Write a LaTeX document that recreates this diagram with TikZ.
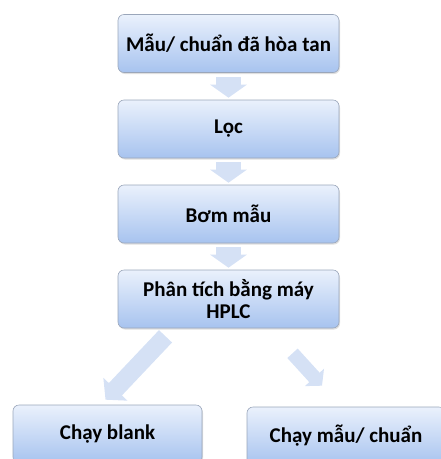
\documentclass[tikz,border=0pt]{standalone}
\usepackage{fontspec}
\setmainfont{Carlito}
\usetikzlibrary{arrows.meta,shadows}
\definecolor{boxtop}{HTML}{EAF1FC}
\definecolor{boxbot}{HTML}{A7C3EF}
\definecolor{boxline}{HTML}{9AA6BA}
\definecolor{arrowfill}{HTML}{D5E1F5}
\begin{document}
\begin{tikzpicture}[x=1pt,y=-1pt,font=\fontsize{21}{22}\selectfont\bfseries,
	stepbox/.style={draw=boxline,line width=0.6pt,rounded corners=6pt,top color=boxtop,bottom color=boxbot,
		align=center,inner sep=0pt,drop shadow={shadow xshift=1pt,shadow yshift=-1.5pt,opacity=0.25,fill=gray}},
	downarrow/.style={draw=arrowfill,line width=25pt,-{Triangle[width=36pt,length=13pt,fill=arrowfill]}},
	sidearrow/.style={draw=arrowfill,line width=#1,-{Triangle[width=1.8*#1,length=0.8*#1,fill=arrowfill]}}]
	\def\bw{221}
	\def\bh{58}
	\useasboundingbox (0,0) rectangle (441,459);
	\clip (0,0) rectangle (441,459);
	\node[stepbox,minimum width=\bw,minimum height=\bh] (mau) at (228.5,43.5) {Mẫu/ chuẩn đã hòa tan};
	\node[stepbox,minimum width=\bw,minimum height=\bh] (loc) at (228.5,129) {Lọc};
	\node[stepbox,minimum width=\bw,minimum height=\bh] (bom) at (228.5,214) {Bơm mẫu};
	\node[stepbox,minimum width=\bw,minimum height=\bh] (hplc) at (228.5,299) {Phân tích bằng máy\\HPLC};
	\node[stepbox,minimum width=189,minimum height=\bh] (blank) at (107.5,434) {Chạy blank};
	\node[stepbox,minimum width=198,minimum height=\bh] (chuan) at (346,436) {Chạy mẫu/ chuẩn};
	\draw[downarrow] ([yshift=-4pt]mau.south) -- ([yshift=2pt]loc.north);
	\draw[downarrow] ([yshift=-4pt]loc.south) -- ([yshift=2pt]bom.north);
	\draw[downarrow] ([yshift=-4pt]bom.south) -- ([yshift=2pt]hplc.north);
	\draw[sidearrow=18pt] ([xshift=-63pt,yshift=-8pt]hplc.south) -- ([xshift=-2pt,yshift=5pt]blank.north);
	\draw[sidearrow=14pt] ([xshift=64pt,yshift=-25pt]hplc.south) -- ([xshift=-24pt,yshift=21pt]chuan.north);
\end{tikzpicture}
\end{document}
